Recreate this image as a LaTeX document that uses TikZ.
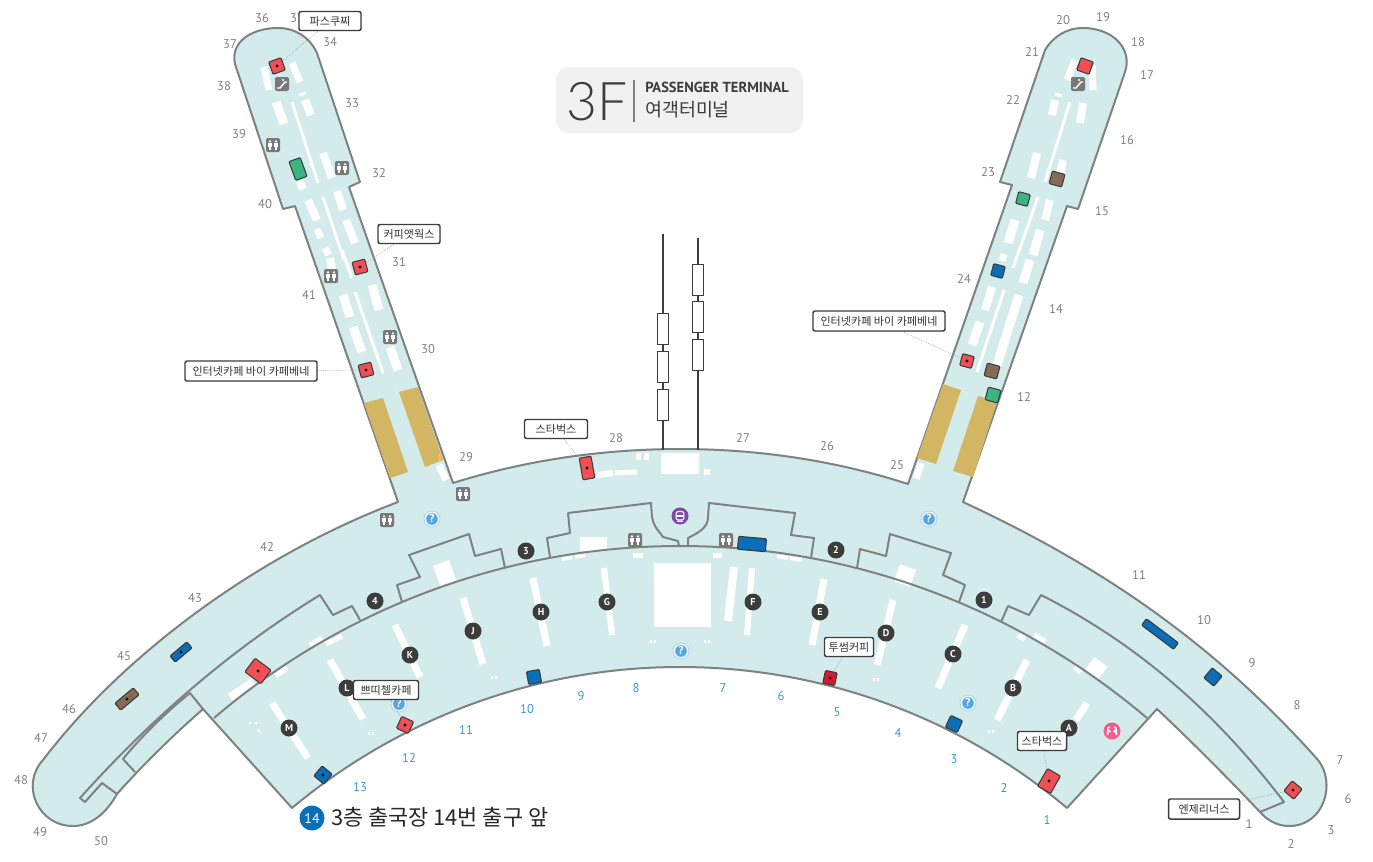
\documentclass[tikz,border=0pt]{standalone}
\usepackage{fontspec}
\usepackage{xcolor}
\usepackage{tikz}
\usetikzlibrary{shadows}
\setmainfont{PT Sans}
\newfontfamily\korean{Noto Sans CJK KR}
\newfontfamily\thinfont[UprightFont=* Light]{Lato}
\definecolor{floorgreen}{RGB}{211, 235, 234}
\definecolor{wallgray}{RGB}{125, 130, 130}
\definecolor{gategray}{RGB}{128, 128, 128}
\definecolor{gateblue}{RGB}{58, 150, 210}
\definecolor{goldzone}{RGB}{210, 182, 100}
\definecolor{goldtip}{RGB}{245, 185, 95}
\definecolor{shopred}{RGB}{240, 80, 85}
\definecolor{shopdeep}{RGB}{215, 25, 50}
\definecolor{shopgreen}{RGB}{60, 180, 130}
\definecolor{shopbrown}{RGB}{135, 105, 85}
\definecolor{shopblue}{RGB}{10, 110, 185}
\definecolor{darkedge}{RGB}{60, 60, 60}
\definecolor{helpblue}{RGB}{85, 165, 225}
\definecolor{helplight}{RGB}{165, 210, 240}
\definecolor{metropurple}{RGB}{125, 75, 165}
\definecolor{wcpink}{RGB}{240, 95, 140}
\definecolor{signgray}{RGB}{120, 120, 120}
\definecolor{titlegray}{RGB}{241, 241, 241}
\definecolor{markblue}{RGB}{10, 110, 185}
\tikzstyle{terminal}=[fill=floorgreen, draw=wallgray, line width=2*0.75pt, line join=round]
\tikzstyle{wall}=[draw=wallgray, line width=2*0.75pt, line join=round]
\tikzstyle{whitebar}=[draw=white, line cap=butt]
\tikzstyle{gatenum}=[text=gategray, font=\fontsize{9.5pt}{11pt}\selectfont, inner sep=0pt]
\tikzstyle{gatenumblue}=[text=gateblue, font=\fontsize{9.5pt}{11pt}\selectfont, inner sep=0pt]
\tikzstyle{pointmark}=[shape=circle, fill=darkedge, text=white, inner sep=0pt, minimum size=17*0.75pt, font=\fontsize{7.5pt}{8pt}\selectfont\bfseries]
\tikzstyle{shop}=[shape=rectangle, draw=darkedge, line width=0.8pt, rounded corners=0.8pt, inner sep=0pt]
\tikzstyle{callout}=[shape=rectangle, draw=darkedge, fill=white, line width=1.1pt, rounded corners=1.5pt, inner sep=0pt, font=\korean\fontsize{8.3pt}{10pt}\selectfont, text=black!80, drop shadow={shadow xshift=0.5pt, shadow yshift=-0.5pt, opacity=0.35}]
\tikzstyle{leader}=[draw=gategray, densely dotted, line width=0.4pt]
\tikzstyle{helpmark}=[shape=circle, draw=helplight, double=white, double distance=0.7pt, line width=0.7pt, fill=helpblue, text=white, inner sep=0pt, minimum size=14*0.75pt, font=\fontsize{8.5pt}{9pt}\selectfont\bfseries]
\tikzstyle{towerbox}=[shape=rectangle, draw=darkedge, fill=white, line width=0.8pt, minimum width=11*0.75pt, minimum height=31*0.75pt, inner sep=0pt]
\tikzset{
    wcsign/.pic={
        \fill[signgray, rounded corners=1.5pt] (-7,-7) rectangle (7,7);
        \foreach \s in {-1,1} {
            \fill[white] (\s*3,-3.6) circle (1.3);
            \fill[white] (\s*3-1.8,-2) rectangle (\s*3+1.8,1.5);
            \fill[white] (\s*3-1,1.5) rectangle (\s*3+1,5);
        }
    },
    escsign/.pic={
        \fill[signgray, rounded corners=1.5pt] (-7,-7) rectangle (7,7);
        \draw[white, line width=1.1pt] (-5,4) -- (-2,4) -- (3,-2) -- (5,-2);
        \fill[white] (1,-4) circle (1.1);
    },
    busicon/.pic={
        \draw[white, line width=0.8pt, rounded corners=1pt] (-3.8,-4.5) rectangle (3.8,4);
        \draw[white, line width=0.8pt] (-3.8,0) -- (3.8,0);
        \draw[white, line width=0.8pt] (-3,5.5) -- (3,5.5);
    },
    pinkicon/.pic={
        \fill[white] (-3,-3.5) circle (1.2);
        \fill[white] (3,-3.5) circle (1.2);
        \draw[white, line width=1.3pt] (-4.5,4) -- (-4,-1.5) -- (-1.5,1);
        \draw[white, line width=1.3pt] (4.5,4) -- (4,-1.5) -- (1.5,1);
    }
}

\begin{document}
\begin{tikzpicture}[x=0.75pt, y=-0.75pt]
    \useasboundingbox (0,0) rectangle (1373,861);

    % Title plate
    \node[shape=rectangle, fill=titlegray, rounded corners=10pt, minimum width=247*0.75pt, minimum height=66*0.75pt] (titlebox) at (679.5,100) {};
    \node[text=darkedge, font=\thinfont\fontsize{40pt}{42pt}\selectfont, inner sep=0pt] (floorname) at (597,102) {3F};
    \node[shape=rectangle, fill=gategray, minimum width=0.8pt, minimum height=42*0.75pt, inner sep=0pt] (titlerule) at (634,101) {};
    \node[text=darkedge, font=\fontsize{10.9pt}{12pt}\selectfont\bfseries, inner sep=0pt, anchor=west] (titleen) at (645,87) {PASSENGER TERMINAL};
    \node[text=darkedge, font=\korean\fontsize{13.8pt}{15pt}\selectfont, inner sep=0pt, anchor=west] (titleko) at (645,110) {여객터미널};

    % Floor outline
    \path[terminal] (398,502) -- (295,206) -- (283,209) -- (237,70)
        .. controls (226,44) and (250,28) .. (278,28)
        .. controls (296,28) and (310,38) .. (317,53)
        -- (360,182) -- (349,187) -- (453,483)
        .. controls (526,460) and (604,449) .. (680,449)
        .. controls (756,449) and (834,460) .. (908,484)
        -- (1012,185) -- (1000,182) -- (1045,50)
        .. controls (1053,37) and (1066,28) .. (1083,28)
        .. controls (1112,28) and (1133,48) .. (1125,72)
        -- (1078,209) -- (1067,206) -- (963,502)
        .. controls (1110,570) and (1220,650) .. (1318,760)
        .. controls (1336,782) and (1325,826) .. (1289,826)
        .. controls (1277,826) and (1267,820) .. (1260,812)
        .. controls (1225,775) and (1192,742) .. (1157,709)
        -- (1067,808)
        .. controls (959,717) and (822,667) .. (680,667)
        .. controls (538,667) and (401,717) .. (292,808)
        -- (203,709)
        .. controls (170,738) and (140,768) .. (117,794)
        .. controls (107,812) and (92,826) .. (73,826)
        .. controls (38,826) and (20,785) .. (43,760)
        .. controls (115,665) and (245,560) .. (398,502)
        -- cycle;

    % Loading zones on the piers
    \fill[goldzone] (364,403) -- (383,398) -- (408,472) -- (390,478) -- cycle;
    \fill[goldzone] (399,392) -- (418,387) -- (443,460) -- (425,467) -- cycle;
    \fill[goldtip] (437,455) -- (441,453) -- (443,459) -- (439,461) -- cycle;
    \fill[goldzone] (943,384) -- (961,390) -- (936,464) -- (917,458) -- cycle;
    \fill[goldzone] (978,396) -- (997,402) -- (973,477) -- (953,471) -- cycle;

    % White bars on the floor
    \foreach \xa/\ya/\xb/\yb/\w in {
        264/67/269/90/7, 292/63/300/82/7, 299/95/306/93/3, 276/102/284/124/9, 292/102/318/183/3,
        305/100/311/115/8, 323/153/332/178/8, 300/181/303/189/8, 308/200/317/220/8, 323/197/344/260/3,
        337/191/343/210/8, 346/220/355/243/8, 317/229/321/238/7, 325/248/329/255/7, 330/258/332/270/8,
        342/250/352/278/3, 343/295/350/317/9, 355/292/383/373/3, 372/285/379/310/9, 353/327/362/352/9,
        390/347/398/370/9, 439/465/446/480/7,
        1067/80/1075/60/7, 1092/65/1093/90/7, 1055/94/1062/96/3, 1055/100/1052/115/8, 1083/103/1080/123/8,
        1070/102/1045/182/3, 1037/153/1031/178/8, 1063/160/1060/175/8, 1038/197/1013/268/3, 1050/200/1045/220/8,
        1015/220/1008/243/9, 1040/230/1033/255/9, 1030/260/1023/283/9, 1004/254/1002/261/7, 1004/290/977/372/3,
        992/287/985/310/8, 1019/295/997/365/9, 980/322/972/345/9, 921/463/916/479/7,
        597/475/613/473/6, 615/473/637/472/5, 638/453/638/460/5, 646/453/646/460/5, 661/463.5/699/463.5/21,
        707/469/707/475/6, 580/544/607/544/14, 441/563/449/585/17, 562/559/572/557/4, 575/557/585/555/4,
        633/555/643/555/5, 713/555/722/555/5, 777/556/788/558/4, 790/558/802/560/4, 654/595/711/595/64,
        604/568/612/635/6, 533/578/547/646/7, 463/598/483/664/7, 395/625/420/677/7, 330/660/363/719/7,
        272/703/308/758/7, 752/568/747/635/6, 734/567/728/621/8, 824/579/812/645/7, 893/600/877/665/7,
        965/625/938/688/7, 1027/660/997/720/7, 1087/703/1076/720/7, 1018/635/1025/639/6, 1034/635/1045/642/6,
        1075/667/1081/672/6, 1090/663/1103/673/15, 908/567/902/584/17, 310/645/322/638/5, 326/644/334/640/5,
        335/640/342/636/5, 276/676/287/668/5, 230/697/253/682/8,
        368/733/370/733/3, 372/733/374/733/3, 491/677/493/677/3, 495/677/497/677/3, 650/641/652/641/3,
        654/641/656/641/3, 704/641/706/641/3, 708/641/710/641/3, 873/679/875/679/3, 877/679/879/679/3,
        988/731/990/731/3, 992/731/994/731/3, 249/723/251/723/2, 255/723/257/723/2, 258/729/259/732/2} {
        \draw[whitebar, line width=\w*0.75pt] (\xa,\ya) -- (\xb,\yb);
    }

    % Concourse divider and rooms
    \draw[wall] (214,718) .. controls (344,607) and (509,546) .. (680,546) .. controls (851,546) and (1016,607) .. (1147,718);
    \draw[wall] (402,602) -- (397,585) -- (420,577) -- (409,555) -- (469,534) -- (475,556) -- (501,549) -- (505,568);
    \draw[wall] (550,557) -- (547,538) -- (570,533) -- (568,513) -- (651,503) -- (652,517) .. controls (654,528) and (660,532) .. (663,537) -- (678,541) -- (679,546);
    \draw[wall] (688,546) -- (688,538) .. controls (700,532) and (708,527) .. (708,517) -- (709,503) -- (795,513) -- (791,535) -- (814,538) -- (811,558);
    \draw[wall] (857,568) -- (860,549) -- (886,556) -- (890,534) -- (951,553) -- (943,575) -- (965,585) -- (959,602);
    \draw[wall] (1001,622) -- (1008,606) -- (1029,615) -- (1041,595) .. controls (1130,640) and (1210,705) .. (1284,802) -- (1260,812);
    \draw[wall] (360,620) -- (352,606) -- (333,615) -- (320,595) .. controls (230,650) and (150,720) .. (80,798) -- (85,802) -- (102,783) -- (117,794);
    \draw[wall] (203,709) -- (190,693) .. controls (165,713) and (140,738) .. (123,759) -- (135,772);

    % Shuttle towers
    \node[towerbox] (towera1) at (663,329) {};
    \node[towerbox] (towera2) at (663,367) {};
    \node[towerbox] (towera3) at (663,405) {};
    \node[towerbox] (towerb1) at (698,280) {};
    \node[towerbox] (towerb2) at (698,317) {};
    \node[towerbox] (towerb3) at (698,355) {};
    \coordinate (toweratop) at (663,234);
    \coordinate (towerabase) at (663,450);
    \coordinate (towerbtop) at (698,238);
    \coordinate (towerbbase) at (698,450);
    \draw[darkedge, line width=1.8pt] (toweratop) -- (towera1);
    \draw[darkedge, line width=1.8pt] (towera1) -- (towera2);
    \draw[darkedge, line width=1.8pt] (towera2) -- (towera3);
    \draw[darkedge, line width=1.8pt] (towera3) -- (towerabase);
    \draw[darkedge, line width=1.8pt] (towerbtop) -- (towerb1);
    \draw[darkedge, line width=1.8pt] (towerb1) -- (towerb2);
    \draw[darkedge, line width=1.8pt] (towerb2) -- (towerb3);
    \draw[darkedge, line width=1.8pt] (towerb3) -- (towerbbase);

    % Shops with a dot
    \foreach \nm/\col/\x/\y/\r/\w/\h in {
        pasc/shopred/277/66/20/13/13, coffeeat/shopred/360/267/15/13/13, caffeleft/shopred/366/370/15/13/13,
        starmid/shopred/587/468/10/12/22, redwing/shopred/258/671/-37/20/17, petit/shopred/405/725/-25/13/13,
        twosome/shopdeep/830/678/-12/12/13, starright/shopred/1049/781/-30/15/20, angel/shopred/1293/790/-40/13/13,
        cafferight/shopred/967/361/-15/12/12,
        bluewing/shopblue/181/652/-50/8/22, browning/shopbrown/127/699/-50/9/24, bluegate/shopblue/323/775/-40/13/13} {
        \node[shop, fill=\col, rotate=\r, minimum width=\w*0.75pt, minimum height=\h*0.75pt] (\nm) at (\x,\y) {};
        \fill[black] (\nm.center) circle (1.6);
    }

    % Shops without a dot
    \foreach \nm/\col/\x/\y/\r/\w/\h in {
        redhead/shopred/1085/66/-20/13/13, greenhead/shopgreen/298/169/20/12/20, greenb/shopgreen/1023/199/-15/12/12,
        greenc/shopgreen/993/395/-15/13/13, brownb/shopbrown/1057/179/-15/13/13, brownc/shopbrown/992/371/-15/13/13,
        bluec/shopblue/534/677/10/13/13, blued/shopblue/752/544/-5/28/13, bluee/shopblue/954/724/-25/13/13,
        bluef/shopblue/1160/634/53/8/40, blueg/shopblue/1213/677/-40/13/13, blueh/shopblue/998/271/-15/12/12} {
        \node[shop, fill=\col, rotate=\r, minimum width=\w*0.75pt, minimum height=\h*0.75pt] (\nm) at (\x,\y) {};
    }

    % Toilets and escalators
    \foreach \x/\y in {273/145, 342/168, 331/276, 390/337, 463/494, 387/520, 635/540, 726/540} {
        \pic at (\x,\y) {wcsign};
    }
    \pic at (282,84) {escsign};
    \pic at (1078,84) {escsign};

    % Information points
    \node[helpmark] (helpa) at (432,519) {?};
    \node[helpmark] (helpb) at (929,519) {?};
    \node[helpmark] (helpc) at (681,651) {?};
    \node[helpmark] (helpd) at (968,703) {?};
    \node[helpmark] (helpe) at (399,704) {?};

    % Purple and pink signs
    \node[shape=circle, fill=metropurple, minimum size=17*0.75pt, inner sep=0pt] (metro) at (680,516) {};
    \pic at (metro.center) {busicon};
    \node[shape=circle, fill=wcpink, minimum size=17*0.75pt, inner sep=0pt] (pinkwc) at (1112,731) {};
    \pic at (pinkwc.center) {pinkicon};

    % Boarding points
    \foreach \l/\x/\y in {A/1069/728, B/1013/688, C/953/654, D/886/633, E/820/612, F/753/602, G/607/602, H/541/612,
        J/473/631, K/410/655, L/347/688, M/289/728, 1/984/600, 2/836/550, 3/526/551, 4/375/601} {
        \node[pointmark] (pt\l) at (\x,\y) {\l};
    }

    % Gate numbers, main building
    \foreach \n/\x/\y in {36/262/18, 35/297/18, 34/330/42, 37/230/44, 38/224/86, 33/352/103, 39/239/134, 32/379/173,
        40/265/204, 31/399/262, 41/309/295, 30/428/349, 29/466/457, 28/616/438, 27/743/438, 26/827/446, 25/897/465,
        12/1024/397, 14/1056/309, 24/964/279, 23/988/172, 15/1102/211, 16/1127/140, 22/1013/100, 21/1032/52,
        20/1063/20, 19/1103/17, 18/1138/42, 17/1147/75, 11/1139/575, 10/1204/620, 9/1252/663, 8/1297/705,
        7/1340/760, 6/1348/799, 3/1331/830, 2/1291/844, 1/1249/824, 42/267/547, 43/195/598, 45/124/656,
        46/69/709, 47/41/738, 48/21/780, 49/40/832, 50/101/841} {
        \node[gatenum] (gate\n) at (\x,\y) {\n};
    }

    % Gate numbers, concourse
    \foreach \n/\x/\y in {13/360/787, 12/409/758, 11/466/730, 10/527/709, 9/581/696, 8/636/688, 7/723/688,
        6/781/696, 5/837/712, 4/898/733, 3/954/759, 2/1004/788, 1/1047/820} {
        \node[gatenumblue] (bgate\n) at (\x,\y) {\n};
    }

    % Shop labels
    \node[callout, minimum width=62*0.75pt, minimum height=19*0.75pt] (pasclab) at (330,21) {파스쿠찌};
    \node[callout, minimum width=62*0.75pt, minimum height=19*0.75pt] (coffeeatlab) at (409,234) {커피앳웍스};
    \node[callout, minimum width=132*0.75pt, minimum height=20*0.75pt] (caffeleftlab) at (251,371) {인터넷카페 바이 카페베네};
    \node[callout, minimum width=63*0.75pt, minimum height=19*0.75pt] (starmidlab) at (556,429) {스타벅스};
    \node[callout, minimum width=132*0.75pt, minimum height=20*0.75pt] (caffelab) at (879,321) {인터넷카페 바이 카페베네};
    \node[callout, minimum width=49*0.75pt, minimum height=19*0.75pt] (twosomelab) at (849,647) {투썸커피};
    \node[callout, minimum width=65*0.75pt, minimum height=19*0.75pt] (petitlab) at (386,690) {쁘띠첼카페};
    \node[callout, minimum width=49*0.75pt, minimum height=19*0.75pt] (starrightlab) at (1042,741) {스타벅스};
    \node[callout, minimum width=71*0.75pt, minimum height=20*0.75pt] (angellab) at (1204,809) {엔제리너스};

    % Label leaders
    \draw[leader] (pasclab) -- (pasc);
    \draw[leader] (coffeeatlab) -- (coffeeat);
    \draw[leader] (caffeleftlab) -- (caffeleft);
    \draw[leader] (starmidlab) -- (starmid);
    \draw[leader] (caffelab) -- (cafferight);
    \draw[leader] (twosomelab) -- (twosome);
    \draw[leader] (petitlab) -- (petit);
    \draw[leader] (starrightlab) -- (starright);
    \draw[leader] (angellab) -- (angel);

    % Location caption
    \node[shape=circle, fill=markblue, text=white, minimum size=25*0.75pt, inner sep=0pt, font=\fontsize{10.5pt}{11pt}\selectfont] (markfour) at (312,818) {14};
    \node[text=black!85, font=\korean\fontsize{16.4pt}{18pt}\selectfont, inner sep=0pt, anchor=west] (caption) at (331,817) {3층 출국장 14번 출구 앞};
\end{tikzpicture}
\end{document}
